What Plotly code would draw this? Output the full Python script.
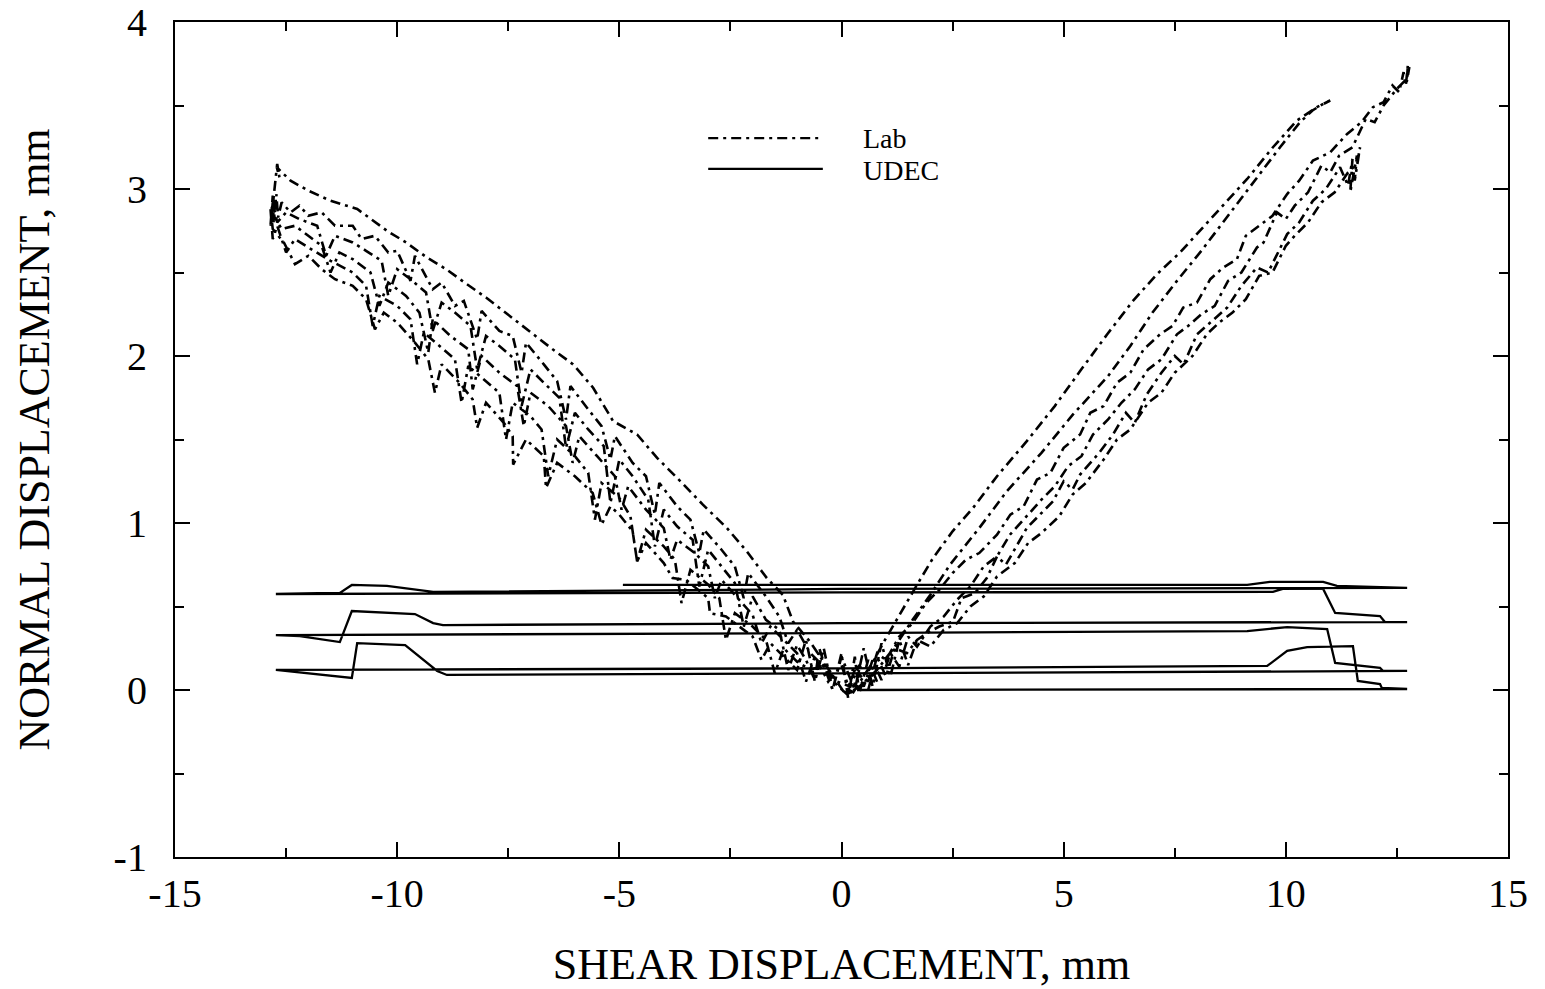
import plotly.graph_objects as go

# ---------------- UDEC (solid) : one continuous cyclic path ----------------
udec_x = [0.35, 12.73,
          12.16, 12.12, 11.62, 11.51, 10.48, 10.03, 9.58, 0.0, -12.73,
          -12.12, -11.02, -10.90, -9.82, -9.10, -8.88, 0.0, 12.73,
          12.19, 12.12, 11.11, 10.93, 10.03, 9.13, 0.0, -12.73,
          -12.19, -11.29, -11.02, -9.60, -9.19, -8.97, 0.0, 12.23, 12.73,
          12.23, 12.12, 11.11, 10.84, 9.93, 9.71, 0.0, -12.73,
          -11.29, -11.02, -10.23, -9.19, 0.0, 12.73,
          11.15, 10.84, 9.64, 9.13, -4.92]
udec_y = [0.0, 0.006,
          0.012, 0.036, 0.054, 0.263, 0.257, 0.234, 0.144, 0.13, 0.12,
          0.102, 0.072, 0.281, 0.269, 0.114, 0.09, 0.10, 0.114,
          0.114, 0.132, 0.162, 0.365, 0.377, 0.353, 0.341, 0.329,
          0.323, 0.287, 0.473, 0.455, 0.401, 0.389, 0.40, 0.407, 0.407,
          0.407, 0.443, 0.461, 0.605, 0.605, 0.587, 0.584, 0.575,
          0.581, 0.629, 0.623, 0.587, 0.605, 0.611,
          0.623, 0.647, 0.647, 0.629, 0.629]

# ---------------- Lab (dash-dot) : branches of the cyclic test ----------------
lab_A = [(0.25, -0.02), (0.5, 0.08), (0.71, 0.17), (1.0, 0.31), (1.32, 0.46), (1.7, 0.63),
         (2.06, 0.79), (2.5, 0.95), (2.96, 1.09), (3.5, 1.28), (4.17, 1.49), (4.8, 1.70),
         (5.37, 1.91), (5.98, 2.13), (6.56, 2.33), (7.1, 2.49), (7.62, 2.62), (8.1, 2.76),
         (8.6, 2.91), (9.13, 3.06), (9.71, 3.25), (10.25, 3.41), (10.7, 3.49), (11.0, 3.53)]
lab_B = [(10.9, 3.52), (10.6, 3.47), (10.32, 3.40), (9.87, 3.25), (9.3, 3.05), (8.74, 2.85),
         (8.1, 2.63), (7.55, 2.45), (7.0, 2.26), (6.5, 2.06), (6.0, 1.88), (5.21, 1.65),
         (4.5, 1.42), (3.72, 1.19), (3.1, 0.97), (2.44, 0.75), (2.0, 0.57), (1.6, 0.42),
         (1.2, 0.26), (0.8, 0.12), (0.4, 0.02), (0.1, -0.03)]
lab_L1 = [(-0.26, 0.11), (-0.71, 0.29), (-1.09, 0.41), (-1.32, 0.57), (-1.68, 0.67),
          (-2.13, 0.83), (-2.58, 0.97), (-3.12, 1.11), (-3.70, 1.27), (-4.15, 1.39),
          (-4.60, 1.53), (-5.14, 1.61), (-5.59, 1.81), (-6.04, 1.95), (-6.5, 2.04),
          (-6.94, 2.13), (-7.53, 2.25), (-8.0, 2.35), (-8.43, 2.43), (-8.9, 2.52),
          (-9.33, 2.59), (-9.8, 2.68), (-10.23, 2.75), (-10.6, 2.82), (-10.9, 2.88),
          (-11.5, 2.93), (-12.0, 2.99), (-12.4, 3.05), (-12.71, 3.13), (-12.65, 3.07),
          (-12.7, 3.15)]
lab_L2 = [(-12.85, 2.78), (-12.8, 2.96), (-12.78, 2.80), (-12.72, 2.97), (-12.68, 2.83),
          (-12.6, 2.92), (-12.4, 2.86), (-12.2, 2.90), (-12.0, 2.84), (-11.7, 2.86),
          (-11.4, 2.78), (-11.0, 2.78), (-10.8, 2.70), (-10.5, 2.72), (-10.2, 2.62),
          (-10.0, 2.63), (-9.7, 2.45), (-9.6, 2.60), (-9.2, 2.40), (-9.0, 2.44),
          (-8.7, 2.30), (-8.5, 2.33), (-8.2, 2.10), (-8.1, 2.27), (-7.7, 2.15),
          (-7.4, 2.12), (-7.2, 1.90), (-7.1, 2.08), (-6.7, 1.95), (-6.4, 1.85),
          (-6.2, 1.62), (-6.1, 1.82), (-5.7, 1.68), (-5.4, 1.58), (-5.2, 1.38),
          (-5.1, 1.52), (-4.7, 1.36), (-4.4, 1.28), (-4.2, 1.05), (-4.1, 1.24),
          (-3.7, 1.10), (-3.4, 1.02), (-3.2, 0.82), (-3.1, 0.96), (-2.7, 0.84),
          (-2.4, 0.74), (-2.2, 0.55), (-2.1, 0.70), (-1.7, 0.56), (-1.4, 0.44),
          (-1.2, 0.28), (-1.0, 0.36), (-0.7, 0.22), (-0.4, 0.14), (-0.1, 0.05), (0.2, 0.02)]
lab_C = [(0.4, 0.15), (0.6, 0.05), (0.8, 0.22), (1.0, 0.18), (1.3, 0.32), (1.6, 0.40),
         (1.9, 0.52), (2.2, 0.60), (2.5, 0.70), (2.8, 0.78), (3.1, 0.82), (3.5, 0.93),
         (3.8, 1.05), (4.1, 1.10), (4.4, 1.26), (4.7, 1.30), (5.0, 1.45), (5.37, 1.53),
         (5.6, 1.66), (5.9, 1.70), (6.2, 1.84), (6.5, 1.90), (6.8, 2.04), (7.17, 2.13),
         (7.45, 2.18), (7.69, 2.29), (8.0, 2.32), (8.3, 2.46), (8.59, 2.53), (8.9, 2.58),
         (9.1, 2.72), (9.35, 2.77), (9.7, 2.84), (10.03, 2.97), (10.3, 3.05), (10.61, 3.17),
         (11.0, 3.22), (11.38, 3.33), (11.7, 3.40), (11.96, 3.49), (12.2, 3.52), (12.4, 3.62),
         (12.55, 3.58), (12.65, 3.70), (12.7, 3.62), (12.75, 3.75), (12.72, 3.64), (12.78, 3.73)]
lab_D = [(12.72, 3.66), (12.5, 3.60), (12.2, 3.50), (12.0, 3.40), (11.8, 3.42), (11.5, 3.25),
         (11.2, 3.20), (11.0, 3.10), (10.8, 3.14), (10.5, 2.98), (10.2, 2.90), (10.0, 2.82),
         (9.8, 2.86), (9.5, 2.68), (9.35, 2.65), (9.0, 2.50), (8.7, 2.45), (8.4, 2.30),
         (8.1, 2.25), (7.8, 2.18), (7.55, 2.13), (7.2, 1.98), (6.9, 1.92), (6.6, 1.80),
         (6.3, 1.72), (6.0, 1.62), (5.66, 1.53), (5.4, 1.40), (5.1, 1.34), (4.8, 1.22),
         (4.5, 1.14), (4.2, 1.05), (3.79, 0.93), (3.5, 0.80), (3.2, 0.74), (2.9, 0.62),
         (2.6, 0.54), (2.3, 0.44), (2.0, 0.38), (1.7, 0.26), (1.5, 0.32), (1.3, 0.14),
         (1.1, 0.22), (0.9, 0.06), (0.7, 0.18), (0.5, 0.02), (0.3, 0.12), (0.1, -0.02)]
lab_L3 = [(-0.3, 0.08), (-0.5, 0.25), (-0.6, 0.06), (-0.8, 0.18), (-1.0, 0.27), (-1.2, 0.12),
          (-1.4, 0.36), (-1.7, 0.42), (-2.0, 0.56), (-2.2, 0.38), (-2.4, 0.64), (-2.7, 0.74),
          (-3.0, 0.84), (-3.2, 0.62), (-3.35, 0.90), (-3.7, 0.98), (-4.0, 1.08), (-4.2, 0.86),
          (-4.35, 1.14), (-4.7, 1.28), (-5.0, 1.38), (-5.2, 1.12), (-5.35, 1.46), (-5.7, 1.56),
          (-6.0, 1.66), (-6.2, 1.45), (-6.35, 1.75), (-6.7, 1.84), (-7.0, 1.92), (-7.2, 1.70),
          (-7.35, 1.98), (-7.7, 2.06), (-8.0, 2.12), (-8.2, 1.92), (-8.35, 2.18), (-8.7, 2.26),
          (-9.0, 2.32), (-9.2, 2.15), (-9.35, 2.38), (-9.7, 2.46), (-10.0, 2.52), (-10.2, 2.36),
          (-10.35, 2.57), (-10.7, 2.63), (-11.0, 2.68), (-11.4, 2.72), (-11.6, 2.60),
          (-11.8, 2.78), (-12.2, 2.82), (-12.5, 2.86), (-12.7, 2.80), (-12.8, 2.92),
          (-12.85, 2.78), (-12.78, 2.95)]
lab_L4 = [(-12.82, 2.86), (-12.6, 2.76), (-12.3, 2.78), (-12.0, 2.72), (-11.7, 2.66),
          (-11.5, 2.50), (-11.3, 2.62), (-11.0, 2.58), (-10.6, 2.50), (-10.4, 2.30),
          (-10.2, 2.44), (-9.8, 2.36), (-9.5, 2.26), (-9.3, 2.02), (-9.2, 2.22), (-8.8, 2.12),
          (-8.4, 2.04), (-8.3, 1.80), (-8.1, 2.00), (-7.7, 1.90), (-7.3, 1.82), (-7.15, 1.58),
          (-7.0, 1.78), (-6.6, 1.70), (-6.2, 1.58), (-6.05, 1.36), (-5.9, 1.52), (-5.5, 1.40),
          (-5.1, 1.28), (-4.95, 1.08), (-4.8, 1.22), (-4.4, 1.08), (-4.0, 0.97), (-3.85, 0.78),
          (-3.7, 0.90), (-3.3, 0.82), (-3.0, 0.74), (-2.85, 0.55), (-2.7, 0.66), (-2.3, 0.54),
          (-2.0, 0.45), (-1.8, 0.28), (-1.6, 0.38), (-1.3, 0.30), (-1.0, 0.22), (-0.8, 0.05),
          (-0.6, 0.20), (-0.3, 0.05), (0.0, 0.15), (0.2, -0.02)]
lab_E = [(0.4, 0.10), (0.6, 0.0), (0.8, 0.20), (1.0, 0.08), (1.2, 0.25), (1.47, 0.22),
         (1.7, 0.30), (1.92, 0.34), (2.2, 0.38), (2.51, 0.41), (2.7, 0.55), (3.0, 0.58),
         (3.27, 0.67), (3.5, 0.80), (3.7, 0.75), (4.17, 0.97), (4.5, 1.06), (4.76, 1.13),
         (5.0, 1.25), (5.2, 1.20), (5.37, 1.29), (5.8, 1.42), (6.11, 1.53), (6.4, 1.66),
         (6.6, 1.60), (6.87, 1.77), (7.2, 1.90), (7.5, 2.00), (7.7, 1.95), (8.0, 2.13),
         (8.3, 2.20), (8.68, 2.29), (9.0, 2.42), (9.35, 2.53), (9.6, 2.50), (10.03, 2.73),
         (10.3, 2.80), (10.61, 2.93), (10.9, 3.00), (11.22, 3.13), (11.4, 3.02), (11.5, 3.18),
         (11.45, 2.98), (11.6, 3.20), (11.55, 3.05), (11.67, 3.25)]
lab_F = [(11.6, 3.15), (11.4, 3.10), (11.1, 2.98), (10.8, 2.92), (10.5, 2.80), (10.2, 2.72),
         (10.0, 2.66), (9.7, 2.50), (9.4, 2.48), (9.1, 2.34), (8.8, 2.26), (8.5, 2.20),
         (8.22, 2.13), (7.9, 2.00), (7.5, 1.90), (7.2, 1.78), (6.9, 1.72), (6.5, 1.56),
         (6.2, 1.50), (5.9, 1.38), (5.5, 1.24), (5.2, 1.17), (4.9, 1.04), (4.5, 0.94),
         (4.2, 0.88), (3.9, 0.76), (3.5, 0.68), (3.2, 0.56), (2.9, 0.50), (2.6, 0.40),
         (2.3, 0.36), (2.0, 0.26), (1.7, 0.30), (1.5, 0.15), (1.3, 0.30), (1.1, 0.08),
         (0.9, 0.28), (0.7, 0.02), (0.5, 0.25), (0.3, 0.0)]
lab_L5 = [(0.0, 0.20), (-0.2, 0.0), (-0.4, 0.15), (-0.7, 0.12), (-1.0, 0.17), (-1.3, 0.25),
          (-1.5, 0.10), (-1.7, 0.30), (-2.0, 0.38), (-2.4, 0.46), (-2.6, 0.30), (-2.75, 0.55),
          (-3.0, 0.63), (-3.4, 0.72), (-3.6, 0.52), (-3.75, 0.78), (-4.0, 0.86), (-4.4, 0.96),
          (-4.6, 0.77), (-4.75, 1.04), (-5.0, 1.15), (-5.4, 1.24), (-5.55, 1.02), (-5.7, 1.30),
          (-6.0, 1.40), (-6.4, 1.50), (-6.6, 1.28), (-6.75, 1.56), (-7.0, 1.64), (-7.4, 1.72),
          (-7.55, 1.50), (-7.7, 1.78), (-8.0, 1.85), (-8.4, 1.94), (-8.55, 1.72), (-8.7, 1.98),
          (-9.0, 2.05), (-9.4, 2.14), (-9.55, 1.95), (-9.7, 2.22), (-10.0, 2.30), (-10.4, 2.36),
          (-10.55, 2.18), (-10.7, 2.42), (-11.0, 2.50), (-11.5, 2.57), (-12.0, 2.65),
          (-12.3, 2.70), (-12.5, 2.62), (-12.7, 2.78), (-12.8, 2.70), (-12.85, 2.88)]
lab_L6 = [(-12.8, 2.76), (-12.55, 2.68), (-12.3, 2.55), (-12.0, 2.60), (-11.7, 2.52),
          (-11.4, 2.46), (-11.0, 2.42), (-10.7, 2.34), (-10.5, 2.16), (-10.3, 2.26),
          (-10.0, 2.20), (-9.6, 2.08), (-9.3, 1.98), (-9.15, 1.78), (-9.0, 1.95), (-8.6, 1.84),
          (-8.3, 1.74), (-8.2, 1.57), (-8.0, 1.72), (-7.6, 1.60), (-7.4, 1.52), (-7.39, 1.35),
          (-7.1, 1.50), (-6.7, 1.40), (-6.65, 1.21), (-6.4, 1.36), (-6.0, 1.28), (-5.6, 1.18),
          (-5.4, 0.99), (-5.2, 1.10), (-5.0, 1.05), (-4.7, 0.95), (-4.6, 0.77), (-4.4, 0.88),
          (-4.0, 0.76), (-3.8, 0.67), (-3.5, 0.66), (-3.0, 0.55), (-2.96, 0.46), (-2.6, 0.44),
          (-2.2, 0.36), (-2.0, 0.32), (-1.8, 0.18), (-1.6, 0.28), (-1.3, 0.20), (-1.0, 0.12),
          (-0.8, 0.30), (-0.6, 0.05), (-0.4, 0.25), (-0.2, 0.0), (0.0, 0.22), (0.15, -0.05),
          (0.3, 0.20), (0.4, -0.02), (0.6, 0.18), (0.8, 0.05)]

lab_branches = [lab_A, lab_B, lab_L1, lab_L2, lab_C, lab_D, lab_L3, lab_L4,
                lab_E, lab_F, lab_L5, lab_L6]
lab_x = [p[0] for br in lab_branches for p in br]
lab_y = [p[1] for br in lab_branches for p in br]

x_ticks = [-15, -10, -5, 0, 5, 10, 15]
x_ticktext = ["-15", "-10", "-5", "0", "5", "10", "15"]
y_ticks = [-1, 0, 1, 2, 3, 4]
y_ticktext = ["-1", "0", "1", "2", "3", "4"]

FONT = "Liberation Serif, Times New Roman, serif"
LAB_DASH = "10px,5px,3px,5px"

fig = go.Figure()
fig.add_trace(go.Scatter(x=udec_x, y=udec_y, mode="lines", name="UDEC",
                         line=dict(color="black", width=2.3), showlegend=False))
fig.add_trace(go.Scatter(x=lab_x, y=lab_y, mode="lines", name="Lab",
                         line=dict(color="black", width=2.6, dash=LAB_DASH),
                         showlegend=False))

# legend drawn manually (long line samples as in the original)
fig.add_shape(type="line", xref="paper", yref="paper", x0=0.400, x1=0.486, y0=0.861, y1=0.861,
              line=dict(color="black", width=2.3, dash=LAB_DASH))
fig.add_shape(type="line", xref="paper", yref="paper", x0=0.400, x1=0.486, y0=0.824, y1=0.824,
              line=dict(color="black", width=2.3))
fig.add_annotation(xref="paper", yref="paper", x=0.515, y=0.861, text="Lab", showarrow=False,
                   xanchor="left", yanchor="middle", font=dict(family=FONT, size=28, color="black"))
fig.add_annotation(xref="paper", yref="paper", x=0.515, y=0.822, text="UDEC", showarrow=False,
                   xanchor="left", yanchor="middle", font=dict(family=FONT, size=28, color="black"))

axis_common = dict(showgrid=False, zeroline=False, showline=True, linewidth=2.2, linecolor="black",
                   mirror="ticks", ticks="inside", ticklen=15, tickwidth=1.6, tickcolor="black",
                   ticklabeloverflow="allow",
                   tickfont=dict(family=FONT, size=40, color="black"))
fig.update_xaxes(range=[-15, 15], tickvals=x_ticks, ticktext=x_ticktext,
                 minor=dict(tickvals=[-12.5, -7.5, -2.5, 2.5, 7.5, 12.5], ticks="inside",
                            ticklen=9, tickwidth=1.6, tickcolor="black"),
                 title=dict(text="SHEAR DISPLACEMENT, mm", standoff=40,
                            font=dict(family=FONT, size=44, color="black")),
                 ticklabelstandoff=0, **axis_common)
fig.update_yaxes(range=[-1, 4], tickvals=y_ticks, ticktext=y_ticktext,
                 minor=dict(tickvals=[-0.5, 0.5, 1.5, 2.5, 3.5], ticks="inside",
                            ticklen=9, tickwidth=1.6, tickcolor="black"),
                 title=dict(text="NORMAL DISPLACEMENT, mm", standoff=50,
                            font=dict(family=FONT, size=44, color="black")),
                 ticklabelstandoff=18, **axis_common)

fig.update_layout(width=1545, height=989, autosize=False,
                  margin=dict(l=175, r=37, t=22, b=132, autoexpand=False),
                  plot_bgcolor="white", paper_bgcolor="white", showlegend=False)

fig.write_html("out.html", config={"displayModeBar": False},
               post_script="document.body.style.margin='0';document.body.style.overflow='hidden';")
